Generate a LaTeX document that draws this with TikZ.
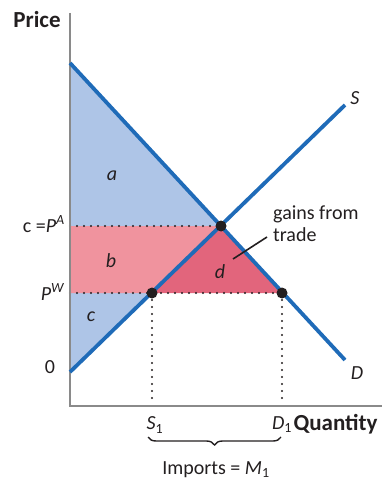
\documentclass[tikz,border=0pt]{standalone}
\usepackage{fontspec}
\setmainfont{Carlito}
\usetikzlibrary{calc, decorations.pathreplacing}
\definecolor{curveblue}{HTML}{1F6BB8}
\definecolor{csblue}{HTML}{AEC5E7}
\definecolor{bpink}{HTML}{F0939E}
\definecolor{dpink}{HTML}{E2657C}
\definecolor{axisgray}{HTML}{8A8A8A}
\definecolor{inkdark}{HTML}{231F20}

\tikzset{
  curve/.style={curveblue, line width=3.8pt},
  guide/.style={inkdark, line width=2.4pt, line cap=round, dash pattern=on 0pt off 7pt},
  eqdot/.style={circle, fill=inkdark, inner sep=0pt, minimum size=11pt},
  lbl/.style={text=inkdark, font=\fontsize{20}{22}\selectfont, inner sep=1pt},
}

\begin{document}
\begin{tikzpicture}[x=1pt, y=-1pt]

\useasboundingbox (0,0) rectangle (383,486);

% Points of the two curves
\coordinate (dtop) at (70,63);
\coordinate (dend) at (345,360);
\coordinate (sbot) at (70,372);
\coordinate (send) at (345,105);
\coordinate (pa-ax) at (70,226);
\coordinate (pw-ax) at (70,293);
\coordinate (eq) at (221,226);
\coordinate (qs) at (152,293);
\coordinate (qd) at (282,293);

% ================================================================
% Surplus areas
% ================================================================
\fill[csblue] (dtop) -- (eq) -- (sbot) -- cycle;
\fill[bpink] (pa-ax) -- (eq) -- (qs) -- (pw-ax) -- cycle;
\fill[dpink] (eq) -- (qd) -- (qs) -- cycle;

% Dotted guides
\draw[guide] (pa-ax) -- (eq);
\draw[guide] (pw-ax) -- (qd);
\draw[guide] (qs) -- (152,404);
\draw[guide] (qd) -- (282,404);

% Axes
\draw[axisgray, line width=2pt] (70,13) -- (70,406) -- (382,406);

% Supply and demand
\draw[curve] (dtop) -- (dend);
\draw[curve] (sbot) -- (send);

% Equilibrium points
\node[eqdot] (e0) at (eq) {};
\node[eqdot] (e1) at (qs) {};
\node[eqdot] (e2) at (qd) {};

% ================================================================
% Labels
% ================================================================
\node[text=inkdark, font=\fontsize{23}{25}\selectfont\bfseries] (price) at (37,20) {Price};
\node[text=inkdark, font=\fontsize{23}{25}\selectfont\bfseries, anchor=east] (qty) at (381,424) {Quantity};

\node[lbl, anchor=east] (pa) at (66,224) {c =\textit{P}\textsuperscript{\textit{A}}};
\node[lbl, anchor=east] (pw) at (66,292) {\textit{P}\textsuperscript{\textit{W}}};
\node[lbl] (zero) at (50,367) {0};

\node[lbl] (la) at (112,176) {\textit{a}};
\node[lbl] (lb) at (111,261) {\textit{b}};
\node[lbl] (lc) at (91,317) {\textit{c}};
\node[lbl] (ld) at (220,272) {\textit{d}};

\node[lbl] (ls) at (355,98) {\textit{S}};
\node[lbl] (ld2) at (357,373) {\textit{D}};

\node[lbl, align=left, anchor=north west] (gains) at (272,205) {gains from\\trade};
\coordinate (gtip) at (267,237);
\coordinate (dtip) at (233,259);
\draw[inkdark, line width=1.6pt] (dtip) -- (gtip);

\node[lbl] (s1) at (155,425) {\textit{S}\textsubscript{1}};
\node[lbl] (d1) at (282,425) {\textit{D}\textsubscript{1}};

% Imports brace
\draw[inkdark, line width=1.4pt, decorate, decoration={brace, mirror, amplitude=8pt}]
  (148,437) -- (281,437);
\node[lbl] (imp) at (216,470) {Imports = \textit{M}\textsubscript{1}};

\end{tikzpicture}
\end{document}
